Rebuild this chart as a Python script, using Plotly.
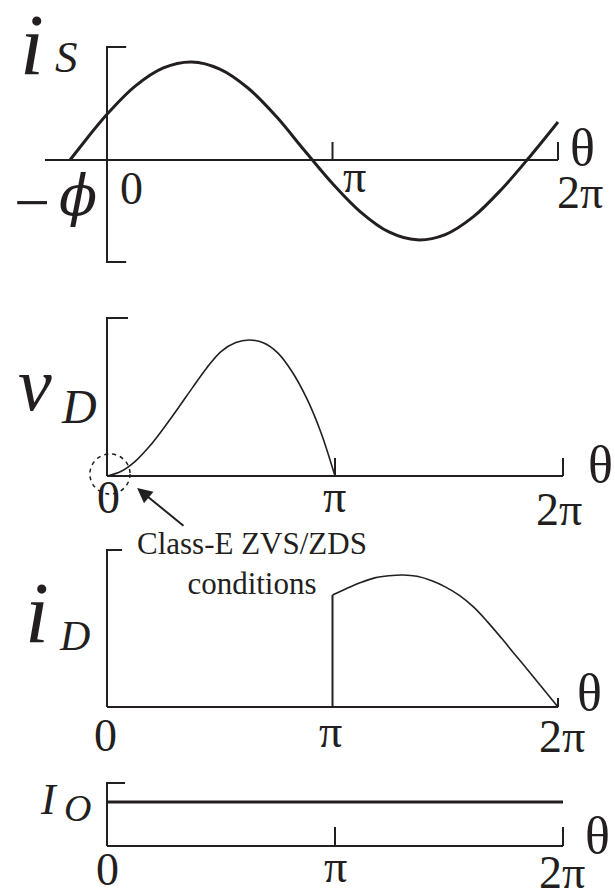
import numpy as np
import plotly.graph_objects as go

INK = "#231f20"
SERIF = "Liberation Serif"
W, H = 615, 895

# ---- waveforms: θ in multiples of π, amplitude normalised to each peak ----
IS_THETA = [-0.164, -0.125, 0.0, 0.125, 0.25, 0.375, 0.5, 0.625, 0.75, 0.875,
            1.0, 1.125, 1.25, 1.375, 1.5, 1.625, 1.75, 1.875, 2.0]
IS_VALUE = [0.0, 0.115, 0.466, 0.754, 0.94, 1.0, 0.928, 0.735, 0.446, 0.099,
            -0.24, -0.531, -0.734, -0.815, -0.761, -0.578, -0.298, 0.034, 0.388]

VD_THETA = [0.0, 0.0625, 0.125, 0.1875, 0.25, 0.3125, 0.375, 0.4375, 0.5,
            0.5625, 0.625, 0.6875, 0.75, 0.8125, 0.875, 0.9375, 1.0]
VD_VALUE = [0.0, 0.035, 0.11, 0.22, 0.355, 0.5, 0.65, 0.795, 0.915,
            0.98, 1.0, 0.978, 0.904, 0.765, 0.574, 0.324, 0.0]

ID_THETA = [1.0, 1.0625, 1.125, 1.1875, 1.25, 1.3125, 1.375, 1.4375, 1.5,
            1.5625, 1.625, 1.6875, 1.75, 1.8125, 1.875, 1.9375, 2.0]
ID_VALUE = [0.848, 0.898, 0.943, 0.978, 0.994, 1.0, 0.99, 0.958, 0.91,
            0.845, 0.758, 0.645, 0.52, 0.39, 0.262, 0.131, 0.0]

IO_THETA = [0.0, 2.0]
IO_VALUE = [1.0, 1.0]

TICK_THETA = [0.0, 1.0, 2.0]
TICK_TEXT = ["0", "π", "2π"]

# ---- panel geometry: pixel of θ=0, θ=2π, value 0 and value 1 ----
PANELS = {
    1: dict(px0=107, px2=558, py0=160, py1=62),
    2: dict(px0=107, px2=563, py0=476, py1=340),
    3: dict(px0=107, px2=558, py0=707, py1=575),
    4: dict(px0=107, px2=563, py0=846, py1=802),
}

# axis frames in data units (θ in multiples of π)
FRAMES = {
    1: dict(y_lo=-1.041, y_hi=1.153, x_lo=-0.275, ytick=0.085, xtick=0.184,
            xticks=[1.0, 2.0], bottom_tick=True),
    2: dict(y_lo=0.0, y_hi=1.162, x_lo=0.0, ytick=0.092, xtick=0.132,
            xticks=[1.0, 2.0], bottom_tick=False),
    3: dict(y_lo=0.0, y_hi=1.189, x_lo=0.0, ytick=0.067, xtick=0.068,
            xticks=[2.0], bottom_tick=False),
    4: dict(y_lo=0.0, y_hi=1.432, x_lo=0.0, ytick=0.079, xtick=0.432,
            xticks=[1.0, 2.0], bottom_tick=False),
}

# tick-label offsets (px) from each tick for the labels 0, π, 2π and θ
TICK_SHIFTS = {
    1: [(24, -28), (22, -16), (22, -32)],
    2: [(1, -21), (-1, -20), (-4, -33)],
    3: [(-2, -28), (-2, -24), (4, -29)],
    4: [(0, -23), (0, -20), (-1, -26)],
}
THETA_SHIFT = {1: (24, 13), 2: (37, 12), 3: (31, 15), 4: (34, 11)}

# axis titles: (text, size, x px, y px)
TITLES = {
    1: [("i", 86, 32, 45), ("S", 45, 66, 57)],
    2: [("v", 76, 35, 384), ("D", 48, 79, 406)],
    3: [("i", 86, 37, 613), ("D", 42, 74, 636)],
    4: [("I", 44, 49, 799), ("O", 38, 77, 808)],
}


def x_range(px0, px2):
    s = (px2 - px0) / (2 * np.pi)
    return [-px0 / s, (W - px0) / s]


def y_range(py0, py1):
    s = py1 - py0
    return [(H - py0) / s, -py0 / s]


def ax(n, kind):
    return kind if n == 1 else f"{kind}{n}"


fig = go.Figure()
layout_axes = {}
for n, g in PANELS.items():
    layout_axes[ax(n, "xaxis")] = dict(domain=[0, 1], range=x_range(g["px0"], g["px2"]),
                                       visible=False, anchor=ax(n, "y"))
    layout_axes[ax(n, "yaxis")] = dict(domain=[0, 1], range=y_range(g["py0"], g["py1"]),
                                       visible=False, anchor=ax(n, "x"))

# axis frames with their bracket ticks
for n, f in FRAMES.items():
    xs = [f["ytick"], 0.0, 0.0]
    ys = [f["y_hi"], f["y_hi"], f["y_lo"]]
    if f["bottom_tick"]:
        xs.append(f["ytick"])
        ys.append(f["y_lo"])
    xs += [None, f["x_lo"], 2.0]
    ys += [None, 0.0, 0.0]
    for t in f["xticks"]:
        xs += [None, t, t]
        ys += [None, 0.0, f["xtick"]]
    fig.add_trace(go.Scatter(
        x=[v * np.pi if v is not None else None for v in xs], y=ys,
        mode="lines", line=dict(color=INK, width=2),
        xaxis=ax(n, "x"), yaxis=ax(n, "y"), hoverinfo="skip"))

# waveforms
fig.add_trace(go.Scatter(x=np.array(IS_THETA) * np.pi, y=IS_VALUE, mode="lines",
                         line=dict(color=INK, width=3, shape="spline", smoothing=1.0),
                         xaxis="x", yaxis="y"))
fig.add_trace(go.Scatter(x=np.array(VD_THETA) * np.pi, y=VD_VALUE, mode="lines",
                         line=dict(color=INK, width=1.6, shape="spline", smoothing=1.0),
                         xaxis="x2", yaxis="y2"))
fig.add_trace(go.Scatter(x=[ID_THETA[0] * np.pi] * 2, y=[0.0, ID_VALUE[0]], mode="lines",
                         line=dict(color=INK, width=2), xaxis="x3", yaxis="y3"))
fig.add_trace(go.Scatter(x=np.array(ID_THETA) * np.pi, y=ID_VALUE, mode="lines",
                         line=dict(color=INK, width=1.6, shape="spline", smoothing=1.0),
                         xaxis="x3", yaxis="y3"))
fig.add_trace(go.Scatter(x=np.array(IO_THETA) * np.pi, y=IO_VALUE, mode="lines",
                         line=dict(color=INK, width=3), xaxis="x4", yaxis="y4"))

annotations = []


def text_ann(text, size, **kw):
    family = kw.pop("family", SERIF)
    d = dict(text=text, showarrow=False, xanchor="center", yanchor="middle",
             font=dict(family=family, size=size, color=INK))
    d.update(kw)
    return d


for n in PANELS:
    for t, lab, (dx, dy) in zip(TICK_THETA, TICK_TEXT, TICK_SHIFTS[n]):
        annotations.append(text_ann(lab, 46, x=t * np.pi, y=0.0, xref=ax(n, "x"),
                                    yref=ax(n, "y"), xshift=dx, yshift=dy))
    dx, dy = THETA_SHIFT[n]
    annotations.append(text_ann("θ", 52, x=2 * np.pi, y=0.0, xref=ax(n, "x"),
                                yref=ax(n, "y"), xshift=dx, yshift=dy))
    for lab, size, px, py in TITLES[n]:
        annotations.append(text_ann(f"<i>{lab}</i>", size, x=px / W, y=1 - py / H,
                                    xref="paper", yref="paper"))

# phase offset label −ϕ at the zero crossing of i_S
annotations.append(text_ann("−", 64, x=IS_THETA[0] * np.pi, y=0.0, xref="x", yref="y",
                            xshift=-38, yshift=-42))
annotations.append(text_ann("<i>ϕ</i>", 56, x=IS_THETA[0] * np.pi, y=0.0, xref="x",
                            yref="y", xshift=8, yshift=-35, family="DejaVu Serif"))

# Class-E switching condition callout
annotations.append(dict(text="", x=0.132 * np.pi, y=-0.088, xref="x2", yref="y2",
                        ax=0.342 * np.pi, ay=-0.375, axref="x2", ayref="y2",
                        showarrow=True, arrowhead=2, arrowsize=1.5, arrowwidth=2,
                        arrowcolor=INK))
annotations.append(text_ann("Class-E ZVS/ZDS<br>conditions", 31, x=0.636 * np.pi,
                            y=-0.647, xref="x2", yref="y2"))

shapes = [dict(type="circle", xref="x2", yref="y2",
               x0=-0.075 * np.pi, x1=0.101 * np.pi, y0=-0.132, y1=0.162,
               line=dict(color=INK, width=1.5, dash="4px,4px"))]

fig.update_layout(
    width=W, height=H, margin=dict(l=0, r=0, t=0, b=0),
    paper_bgcolor="white", plot_bgcolor="rgba(0,0,0,0)", showlegend=False,
    annotations=annotations, shapes=shapes, **layout_axes)

fig.write_html("out.html")
